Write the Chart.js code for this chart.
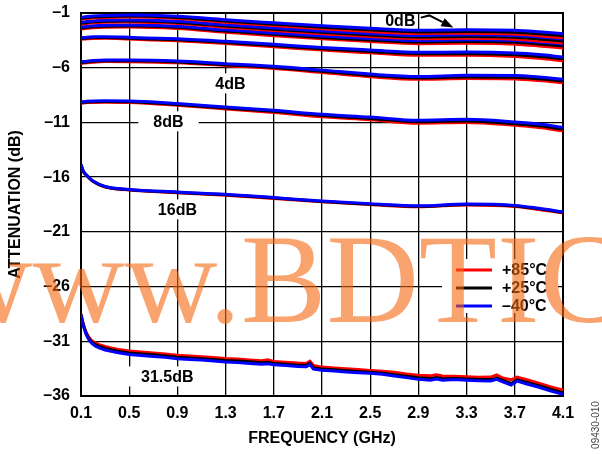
<!DOCTYPE html>
<html><head><meta charset="utf-8">
<script src="https://cdn.jsdelivr.net/npm/chart.js@4.4.0/dist/chart.umd.min.js"></script>
<style>html,body{margin:0;padding:0;background:#fff;}canvas{display:block}</style>
</head><body>
<canvas id="c" width="602" height="454"></canvas>
<script>
// ---------- DATA ----------
const freqGHz = [0.1, 0.12, 0.15, 0.2, 0.3, 0.5, 0.9, 1.3, 1.7, 2.1, 2.5, 2.9, 3.3, 3.7, 3.9, 4.1];

const att0dB_m40 = [-1.39,-1.36,-1.32,-1.27,-1.22,-1.19,-1.30,-1.62,-1.90,-2.17,-2.40,-2.58,-2.52,-2.58,-2.72,-2.90];
const att0dB_p25 = [-1.48,-1.45,-1.41,-1.36,-1.31,-1.28,-1.40,-1.73,-2.02,-2.30,-2.54,-2.73,-2.68,-2.75,-2.90,-3.08];
const att0dB_p85 = [-1.57,-1.54,-1.50,-1.45,-1.40,-1.37,-1.50,-1.84,-2.14,-2.43,-2.68,-2.88,-2.84,-2.92,-3.08,-3.27];

const att05dB_m40 = [-1.84,-1.81,-1.77,-1.72,-1.67,-1.64,-1.76,-2.08,-2.37,-2.64,-2.87,-3.05,-2.99,-3.05,-3.19,-3.37];
const att05dB_p25 = [-1.93,-1.90,-1.86,-1.81,-1.76,-1.73,-1.86,-2.19,-2.49,-2.77,-3.01,-3.20,-3.15,-3.22,-3.37,-3.55];
const att05dB_p85 = [-2.02,-1.99,-1.95,-1.90,-1.85,-1.82,-1.96,-2.30,-2.61,-2.90,-3.15,-3.35,-3.31,-3.39,-3.55,-3.74];

const att1dB_m40 = [-2.29,-2.26,-2.22,-2.17,-2.12,-2.09,-2.21,-2.54,-2.83,-3.10,-3.33,-3.51,-3.45,-3.51,-3.65,-3.84];
const att1dB_p25 = [-2.38,-2.35,-2.31,-2.26,-2.21,-2.18,-2.31,-2.65,-2.95,-3.23,-3.47,-3.66,-3.61,-3.68,-3.83,-4.02];
const att1dB_p85 = [-2.47,-2.44,-2.40,-2.35,-2.30,-2.27,-2.41,-2.76,-3.07,-3.36,-3.61,-3.81,-3.77,-3.85,-4.01,-4.21];

const att2dB_m40 = [-3.27,-3.24,-3.21,-3.18,-3.17,-3.22,-3.36,-3.59,-3.86,-4.15,-4.38,-4.59,-4.57,-4.66,-4.80,-5.02];
const att2dB_p25 = [-3.34,-3.31,-3.28,-3.25,-3.24,-3.30,-3.45,-3.69,-3.97,-4.27,-4.51,-4.73,-4.72,-4.82,-4.97,-5.19];
const att2dB_p85 = [-3.41,-3.38,-3.35,-3.32,-3.31,-3.38,-3.54,-3.79,-4.08,-4.39,-4.64,-4.87,-4.87,-4.98,-5.14,-5.36];

const att4dB_m40 = [-5.48,-5.44,-5.40,-5.35,-5.30,-5.30,-5.39,-5.63,-5.87,-6.22,-6.58,-6.80,-6.70,-6.72,-6.85,-7.06];
const att4dB_p25 = [-5.55,-5.51,-5.47,-5.42,-5.37,-5.37,-5.47,-5.72,-5.97,-6.33,-6.70,-6.93,-6.84,-6.87,-7.01,-7.22];
const att4dB_p85 = [-5.62,-5.58,-5.54,-5.49,-5.44,-5.45,-5.55,-5.81,-6.07,-6.44,-6.82,-7.06,-6.98,-7.02,-7.17,-7.38];

const att8dB_m40 = [-9.13,-9.10,-9.07,-9.05,-9.03,-9.04,-9.28,-9.59,-9.89,-10.26,-10.51,-10.81,-10.72,-10.96,-11.15,-11.45];
const att8dB_p25 = [-9.19,-9.16,-9.13,-9.11,-9.09,-9.11,-9.36,-9.68,-9.99,-10.37,-10.63,-10.94,-10.86,-11.11,-11.31,-11.61];
const att8dB_p85 = [-9.25,-9.22,-9.19,-9.17,-9.15,-9.18,-9.44,-9.77,-10.09,-10.48,-10.75,-11.07,-11.00,-11.26,-11.47,-11.77];

const att16dB_m40 = [-14.85,-15.45,-15.85,-16.35,-16.85,-17.12,-17.36,-17.57,-17.87,-18.18,-18.42,-18.62,-18.45,-18.58,-18.85,-19.17];
const att16dB_p25 = [-14.88,-15.48,-15.88,-16.38,-16.88,-17.15,-17.40,-17.61,-17.91,-18.22,-18.47,-18.67,-18.50,-18.63,-18.90,-19.22];
const att16dB_p85 = [-14.90,-15.50,-15.90,-16.40,-16.90,-17.18,-17.43,-17.65,-17.95,-18.26,-18.51,-18.71,-18.54,-18.68,-18.95,-19.27];

const freq31GHz = [
  0.1,0.11,0.12,0.13,0.14,0.15,0.17,0.19,0.22,0.25,
  0.3,0.35,0.4,0.5,0.6,0.7,0.8,0.9,1.0,1.1,
  1.2,1.3,1.4,1.5,1.6,1.65,1.7,1.8,1.9,1.97,
  2.0,2.03,2.1,2.2,2.3,2.4,2.5,2.6,2.7,2.8,
  2.9,3.0,3.05,3.1,3.2,3.3,3.4,3.5,3.55,3.6,
  3.67,3.72,3.8,3.9,4.0,4.1];
const att31dB_p85 = [
  -28.5,-29.0,-29.45,-29.8,-30.1,-30.35,-30.7,-30.95,-31.15,-31.3,
  -31.48,-31.6,-31.72,-31.88,-31.98,-32.07,-32.17,-32.28,-32.34,-32.42,
  -32.49,-32.57,-32.62,-32.70,-32.78,-32.70,-32.84,-32.92,-32.99,-33.02,
  -32.82,-33.22,-33.36,-33.44,-33.52,-33.58,-33.66,-33.73,-33.84,-33.98,
  -34.10,-34.16,-34.06,-34.18,-34.20,-34.24,-34.28,-34.27,-34.08,-34.36,
  -34.52,-34.28,-34.52,-34.84,-35.18,-35.45];
const att31dB_p25 = [
  -28.55,-29.08,-29.53,-29.88,-30.2,-30.45,-30.82,-31.08,-31.30,-31.46,
  -31.66,-31.78,-31.9,-32.06,-32.16,-32.24,-32.34,-32.46,-32.52,-32.59,
  -32.67,-32.76,-32.81,-32.88,-32.96,-32.91,-33.02,-33.1,-33.18,-33.2,
  -33.02,-33.43,-33.54,-33.61,-33.69,-33.76,-33.82,-33.91,-34.05,-34.19,
  -34.34,-34.41,-34.31,-34.42,-34.39,-34.44,-34.49,-34.5,-34.36,-34.58,
  -34.86,-34.52,-34.76,-35.06,-35.41,-35.7];
const att31dB_m40 = [
  -28.6,-29.15,-29.6,-29.95,-30.3,-30.55,-30.95,-31.2,-31.45,-31.6,
  -31.8,-31.92,-32.03,-32.2,-32.3,-32.38,-32.47,-32.6,-32.66,-32.72,
  -32.8,-32.9,-32.95,-33.02,-33.1,-33.06,-33.15,-33.22,-33.3,-33.32,
  -33.14,-33.55,-33.65,-33.72,-33.8,-33.87,-33.92,-34.02,-34.17,-34.32,
  -34.48,-34.55,-34.44,-34.55,-34.5,-34.55,-34.6,-34.62,-34.48,-34.7,
  -35.0,-34.64,-34.9,-35.2,-35.55,-35.85];

const xTickValues = [0.1,0.5,0.9,1.3,1.7,2.1,2.5,2.9,3.3,3.7,4.1];
const xTickLabels = ['0.1','0.5','0.9','1.3','1.7','2.1','2.5','2.9','3.3','3.7','4.1'];
const yTickValues = [-1,-6,-11,-16,-21,-26,-31,-36];
const yTickLabels = ['\u20131','\u20136','\u201311','\u201316','\u201321','\u201326','\u201331','\u201336'];

const tempLabels = ['+85\u00B0C','+25\u00B0C','\u201340\u00B0C'];
const tempColors = ['#FF0000','#000000','#0000FF'];

const stateLabelText = ['0dB','4dB','8dB','16dB','31.5dB'];
const stateLabelFreq = [2.75, 1.34, 0.826, 0.90, 0.816];
const stateLabelDb   = [-1.67, -7.43, -10.9, -18.94, -34.21];
const stateLabelBox  = [false, true, true, true, true];

// ---------- BUILD ----------
const FONT = '"Liberation Sans", Arial, Helvetica, sans-serif';
Chart.defaults.font.family = FONT;
function pts(fs, vs){ return vs.map((v,i)=>({x:fs[i], y:v})); }
function ds(fs, vs, color, smooth){
  return {data: pts(fs, vs), borderColor: color, backgroundColor: color, borderWidth: 3,
    pointRadius: 0, fill: false, cubicInterpolationMode: smooth ? 'monotone' : 'default', tension: 0};
}
const groups = [
  [att0dB_m40, att0dB_p25, att0dB_p85],
  [att05dB_m40, att05dB_p25, att05dB_p85],
  [att1dB_m40, att1dB_p25, att1dB_p85],
  [att2dB_m40, att2dB_p25, att2dB_p85],
  [att4dB_m40, att4dB_p25, att4dB_p85],
  [att8dB_m40, att8dB_p25, att8dB_p85],
  [att16dB_m40, att16dB_p25, att16dB_p85]
];
const datasets = [];
groups.forEach(g => {
  datasets.push(ds(freqGHz, g[0], tempColors[2], true));
  datasets.push(ds(freqGHz, g[1], tempColors[1], true));
  datasets.push(ds(freqGHz, g[2], tempColors[0], true));
});
datasets.push(ds(freq31GHz, att31dB_m40, tempColors[2], false));
datasets.push(ds(freq31GHz, att31dB_p25, tempColors[1], false));
datasets.push(ds(freq31GHz, att31dB_p85, tempColors[0], false));

const decor = {
  id: 'decor',
  beforeDatasetsDraw(chart){
    const {ctx, chartArea: a, scales: {x, y}} = chart;
    ctx.save();
    ctx.font = 'bold 16px ' + FONT;
    ctx.textAlign = 'center'; ctx.textBaseline = 'middle';
    stateLabelText.forEach((t, i) => {
      const px = x.getPixelForValue(stateLabelFreq[i]);
      const py = y.getPixelForValue(stateLabelDb[i]);
      const w = ctx.measureText(t).width;
      if (stateLabelBox[i]) {
        ctx.fillStyle = '#fff';
        ctx.fillRect(px - w/2 - 15, py - 10, w + 30, 20);
      }
      ctx.fillStyle = '#000';
      ctx.fillText(t, px, py + 1);
    });
    // arrow from 0dB label to top trace
    const p0 = [x.getPixelForValue(2.92), y.getPixelForValue(-1.42)];
    const p1 = [x.getPixelForValue(2.99), y.getPixelForValue(-1.22)];
    const tip = [x.getPixelForValue(3.19), y.getPixelForValue(-2.33)];
    ctx.strokeStyle = '#000'; ctx.lineWidth = 2;
    ctx.beginPath(); ctx.moveTo(p0[0], p0[1]); ctx.lineTo(p1[0], p1[1]);
    const ang = Math.atan2(tip[1]-p1[1], tip[0]-p1[0]);
    const base = [tip[0] - 12*Math.cos(ang), tip[1] - 12*Math.sin(ang)];
    ctx.lineTo(base[0], base[1]); ctx.stroke();
    ctx.fillStyle = '#000';
    ctx.beginPath();
    ctx.moveTo(tip[0], tip[1]);
    ctx.lineTo(base[0] + 4.5*Math.sin(ang), base[1] - 4.5*Math.cos(ang));
    ctx.lineTo(base[0] - 4.5*Math.sin(ang), base[1] + 4.5*Math.cos(ang));
    ctx.closePath(); ctx.fill();
    // plot frame
    ctx.strokeStyle = '#000'; ctx.lineWidth = 2;
    ctx.strokeRect(a.left, a.top, a.right - a.left, a.bottom - a.top);
    ctx.restore();
  },
  afterDatasetsDraw(chart){
    const {ctx, chartArea: a} = chart;
    ctx.save();
    const lx = a.right - 121, ly = a.top + 246;
    ctx.fillStyle = '#fff';
    ctx.fillRect(lx, ly, 116, 54);
    ctx.font = 'bold 16px ' + FONT;
    ctx.textAlign = 'left'; ctx.textBaseline = 'middle';
    tempLabels.forEach((t, i) => {
      const yy = ly + 11 + i * 18;
      ctx.strokeStyle = tempColors[i]; ctx.lineWidth = 3;
      ctx.beginPath(); ctx.moveTo(lx + 14, yy); ctx.lineTo(lx + 50, yy); ctx.stroke();
      ctx.fillStyle = '#000';
      ctx.fillText(t, lx + 60, yy + 1);
    });
    ctx.restore();
  },
  afterDraw(chart){
    const {ctx} = chart;
    ctx.save();
    // watermark
    ctx.font = '128px "Liberation Serif", "Times New Roman", serif';
    ctx.fillStyle = 'rgba(245,102,15,0.6)';
    ctx.textAlign = 'left'; ctx.textBaseline = 'alphabetic';
    ctx.fillText('www.BDTIC', -60, 322);
    // figure code
    ctx.translate(596, 425);
    ctx.rotate(-Math.PI/2);
    ctx.font = '10px ' + FONT;
    ctx.fillStyle = '#444';
    ctx.textAlign = 'center'; ctx.textBaseline = 'middle';
    ctx.fillText('09430-010', 0, 0);
    ctx.restore();
  }
};

new Chart(document.getElementById('c'), {
  type: 'line',
  data: { datasets },
  options: {
    responsive: false, animation: false, devicePixelRatio: 1,
    layout: { padding: { top: 13, right: 39, left: 0, bottom: 0 } },
    plugins: { legend: { display: false }, tooltip: { enabled: false } },
    scales: {
      x: {
        type: 'linear', min: 0.1, max: 4.1,
        afterBuildTicks: s => { s.ticks = xTickValues.map(v => ({value: v})); },
        afterFit: s => { s.height = 58; s.paddingLeft = 0; s.paddingRight = 0; },
        ticks: { callback: (v) => xTickLabels[xTickValues.indexOf(v)], color: '#000',
          font: { size: 16, weight: 'bold' }, padding: 8, maxRotation: 0, autoSkip: false },
        grid: { color: '#000', lineWidth: 1.3, drawTicks: false },
        border: { display: true, color: '#000', width: 2 },
        title: { display: true, text: 'FREQUENCY (GHz)', color: '#000',
          font: { size: 16, weight: 'bold' }, padding: { top: 0, bottom: 6 } }
      },
      y: {
        type: 'linear', min: -36, max: -1,
        afterBuildTicks: s => { s.ticks = yTickValues.map(v => ({value: v})); },
        afterFit: s => { s.width = 81; s.paddingTop = 0; s.paddingBottom = 0; },
        ticks: { callback: (v) => yTickLabels[yTickValues.indexOf(v)], color: '#000',
          font: { size: 16, weight: 'bold' }, padding: 11, autoSkip: false },
        grid: { color: '#000', lineWidth: 1.3, drawTicks: false },
        border: { display: true, color: '#000', width: 2 },
        title: { display: true, text: 'ATTENUATION (dB)', color: '#000',
          font: { size: 16, weight: 'bold' }, padding: { top: 6, bottom: 0 } }
      }
    }
  },
  plugins: [decor]
});
</script>
</body></html>
